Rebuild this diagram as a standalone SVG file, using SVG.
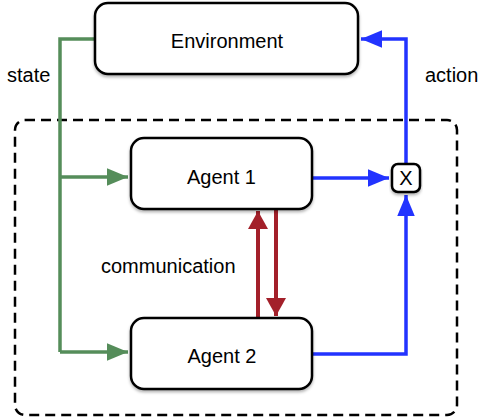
<svg xmlns="http://www.w3.org/2000/svg" width="485" height="420" viewBox="0 0 485 420">
<style>
.node rect{fill:#fff;stroke:#000;stroke-width:2.5}
text{font-family:"Liberation Sans",Arial,sans-serif;font-size:20px;fill:#000}
.g{stroke:#558d5a;stroke-width:3.5;fill:none}
.b{stroke:#2233ff;stroke-width:3.5;fill:none}
.r{stroke:#a3202a;stroke-width:4;fill:none}
</style>
<defs>
<marker id="ag" markerWidth="6" markerHeight="5" refX="6" refY="2.5" orient="auto" viewBox="0 0 6 5"><path d="M0,0L6,2.5L0,5z" fill="#558d5a"/></marker>
<marker id="ab" markerWidth="6" markerHeight="5" refX="6" refY="2.5" orient="auto" viewBox="0 0 6 5"><path d="M0,0L6,2.5L0,5z" fill="#2233ff"/></marker>
<marker id="ar" markerWidth="4.5" markerHeight="5" refX="4.5" refY="2.5" orient="auto" viewBox="0 0 4.5 5"><path d="M0,0L4.5,2.5L0,5z" fill="#a3202a"/></marker>
<filter id="sh" x="-10%" y="-10%" width="120%" height="130%"><feDropShadow dx="0" dy="2" stdDeviation="1.5" flood-opacity="0.3"/></filter>
</defs>
<rect x="15" y="120" width="442" height="295" rx="10" fill="none" stroke="#000" stroke-width="2.5" stroke-dasharray="10,6"/>
<g id="connectors">
<path class="g" d="M95,39H60V352"/>
<path class="g" d="M60,177H128" marker-end="url(#ag)"/>
<path class="g" d="M60,352H128" marker-end="url(#ag)"/>
<path class="b" d="M312,178H389" marker-end="url(#ab)"/>
<path class="b" d="M406,164V39H361" marker-end="url(#ab)"/>
<path class="b" d="M312,354H406V195" marker-end="url(#ab)"/>
<path class="r" d="M258,318V211" marker-end="url(#ar)"/>
<path class="r" d="M276,209V316" marker-end="url(#ar)"/>
</g>
<g id="environment" class="node"><rect x="95" y="3" width="263" height="71" rx="13" filter="url(#sh)"/><text x="227" y="48" text-anchor="middle">Environment</text></g>
<g id="agent1" class="node"><rect x="131" y="138" width="181" height="71" rx="13" filter="url(#sh)"/><text x="221.5" y="184" text-anchor="middle">Agent 1</text></g>
<g id="agent2" class="node"><rect x="131" y="318" width="181" height="71" rx="13" filter="url(#sh)"/><text x="222" y="363" text-anchor="middle">Agent 2</text></g>
<g id="x" class="node"><rect x="392" y="164" width="28" height="28" rx="6" filter="url(#sh)"/><text x="406" y="185" text-anchor="middle">X</text></g>
<text x="7" y="82">state</text>
<text x="425" y="82">action</text>
<text x="101" y="273">communication</text>
</svg>
